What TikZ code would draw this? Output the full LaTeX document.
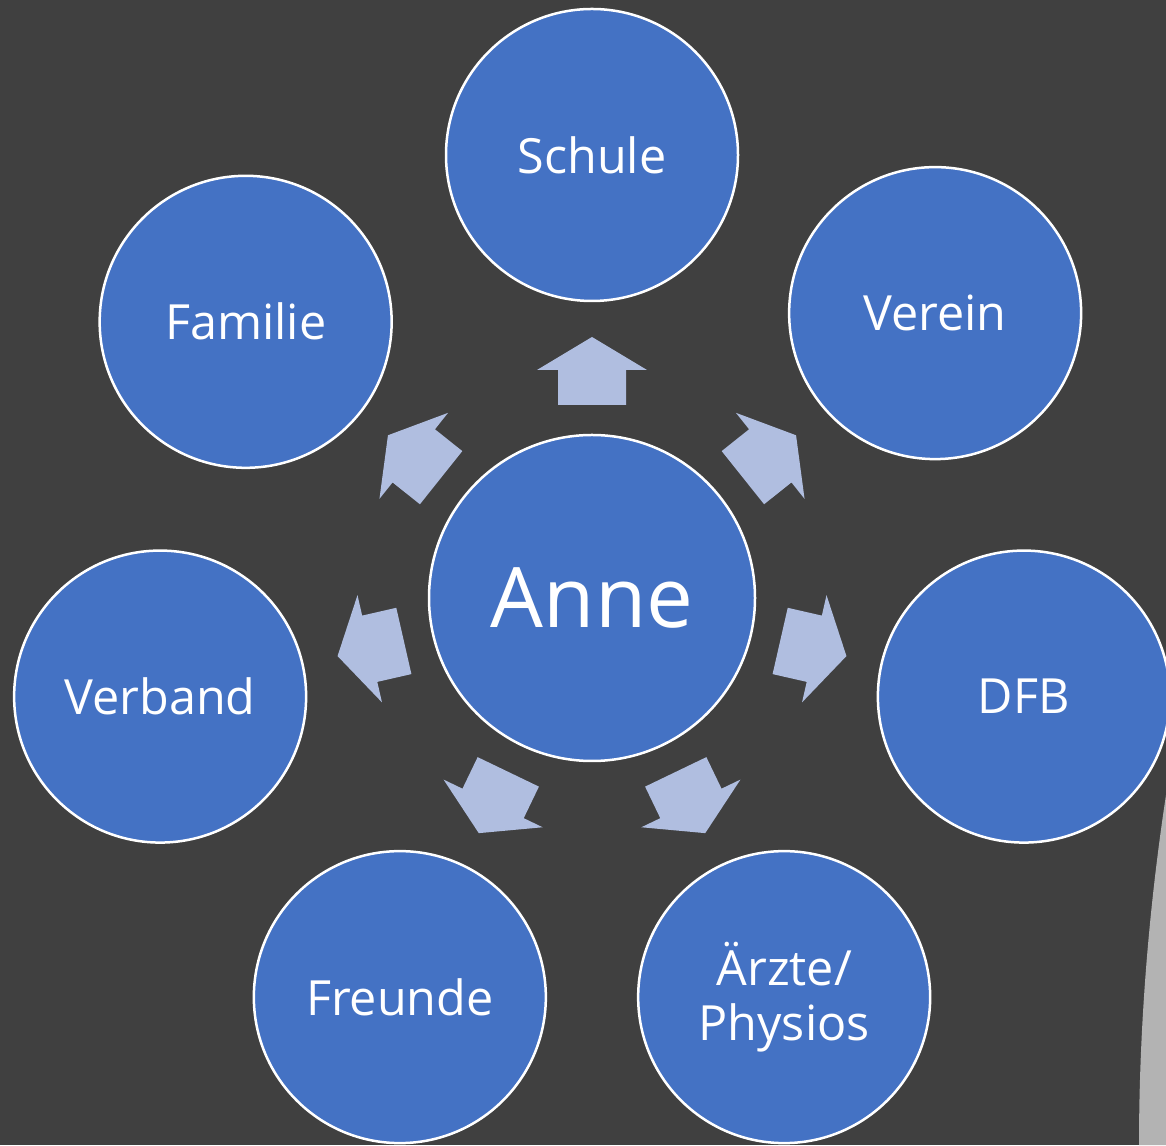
\documentclass[tikz,border=0pt]{standalone}
\usepackage{fontspec}
\setmainfont{Open Sans}
\usetikzlibrary{calc}
\definecolor{bg}{HTML}{404040}
\definecolor{cfill}{HTML}{4472C4}
\definecolor{arr}{HTML}{B0BEE0}
\definecolor{deco}{HTML}{B3B3B3}
\tikzset{
  outer/.style={circle, fill=cfill, draw=white, line width=2.5pt, minimum size=292pt, inner sep=0pt,
    text=white, align=center, font=\fontsize{48.5}{55}\selectfont},
  center/.style={circle, fill=cfill, draw=white, line width=2.5pt, minimum size=326pt, inner sep=0pt,
    text=white, font=\fontsize{83.5}{90}\selectfont},
  blockarrow/.style={fill=arr}
}
\newcommand{\blockarrowat}[1]{%
  \begin{scope}[shift={(anne.center)}, rotate=#1]
    \fill[blockarrow] (193,-34) -- (228,-34) -- (228,-55) -- (261,0) -- (228,55) -- (228,34) -- (193,34) -- cycle;
  \end{scope}}
\begin{document}
\begin{tikzpicture}[x=1pt,y=1pt]
\fill[bg] (0,0) rectangle (1166,1145);
\useasboundingbox (0,0) rectangle (1166,1145);
\fill[deco] (1166,350) .. controls (1150,245) and (1139,125) .. (1139,0) -- (1166,0) -- cycle;
\node[center] (anne) at (592,547) {Anne};
\node[outer] (schule)  at ($(anne)+(90:443)$) {Schule};
\node[outer] (verein)  at ($(anne)+(39.7:446)$) {Verein};
\node[outer] (dfb)     at ($(anne)+(-12.86:443)$) {DFB};
\node[outer] (aerzte)  at ($(anne)+(-64.29:443)$) {Ärzte/\\Physios};
\node[outer] (freunde) at ($(anne)+(-115.71:443)$) {Freunde};
\node[outer] (verband) at ($(anne)+(-167.14:443)$) {Verband};
\node[outer] (familie) at ($(anne)+(141.43:443)$) {Familie};
\blockarrowat{90}
\blockarrowat{38.57}
\blockarrowat{-12.86}
\blockarrowat{-64.29}
\blockarrowat{-115.71}
\blockarrowat{-167.14}
\blockarrowat{141.43}
\end{tikzpicture}
\end{document}
